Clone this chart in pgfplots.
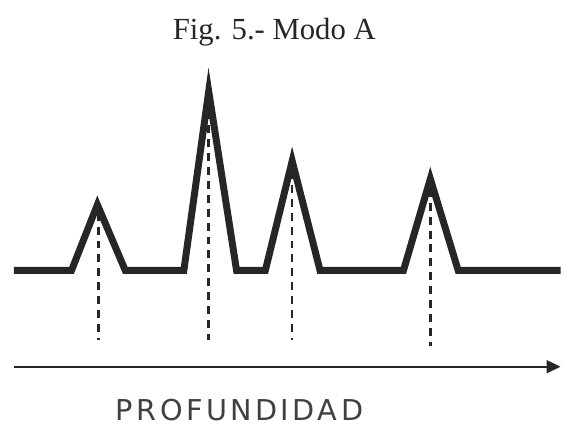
\documentclass[border=0pt]{standalone}
\usepackage{pgfplots}
\pgfplotsset{compat=1.18}
\usepackage{fontspec}
\setmainfont{Liberation Serif}
\newfontfamily\plotfont[LetterSpace=12]{DejaVu Sans}
\usetikzlibrary{arrows.meta}
\definecolor{ink}{HTML}{262626}
\begin{document}
\begin{tikzpicture}
\begin{axis}[
  width=564bp, height=434bp, scale only axis,
  xmin=0, xmax=564, ymin=0, ymax=434, y dir=reverse,
  hide axis, clip=false,
]
\path[draw=none] (axis cs:0,0) rectangle (axis cs:564,434);
% signal with peaks
\addplot[ink, line width=7bp, line join=miter, miter limit=12] coordinates {
  (14,272) (72,272) (98,206) (126,272) (185,272) (210,92) (238,272)
  (267,272) (294,162) (322,272) (406,272) (433,180) (461,272) (564,272)
};
% dashed verticals
\addplot[ink, line width=2.5bp, dash pattern=on 8bp off 6bp] coordinates {(99,214) (99,342)};
\addplot[ink, line width=2.5bp, dash pattern=on 8bp off 6bp] coordinates {(210,112) (210,342)};
\addplot[ink, line width=2.5bp, dash pattern=on 8bp off 6bp] coordinates {(294,172) (294,342)};
\addplot[ink, line width=2.5bp, dash pattern=on 8bp off 6bp] coordinates {(433,190) (433,348)};
% depth axis arrow
\addplot[ink, line width=2bp, -{Triangle[length=14bp,width=13bp]}] coordinates {(14,369) (564,369)};
\node[anchor=base, font=\fontsize{31}{36}\selectfont, text=black!85] at (axis cs:276,40) {Fig. 5.- Modo A};
\node[anchor=base, font=\plotfont\fontsize{29}{32}\selectfont, text=black!75] at (axis cs:241,423) {PROFUNDIDAD};
\end{axis}
\end{tikzpicture}
\end{document}
